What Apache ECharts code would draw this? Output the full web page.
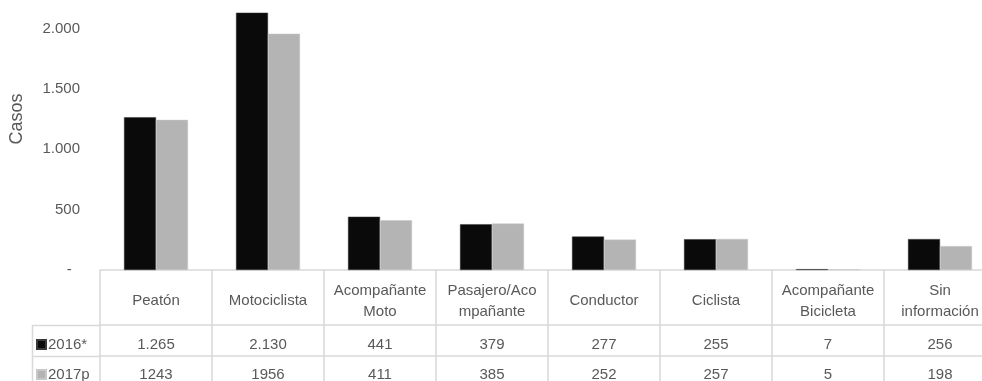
<!DOCTYPE html>
<html>
<head>
<meta charset="utf-8">
<script src="https://cdn.jsdelivr.net/npm/echarts@6/dist/echarts.min.js"></script>
<style>
  html, body { margin: 0; padding: 0; background: #fff; }
  #chart { width: 982px; height: 381px; }
</style>
</head>
<body>
<div id="chart"></div>
<script>
// Víctimas por condición del usuario de la vía
const categories = ['Peatón', 'Motociclista', 'Acompañante\nMoto', 'Pasajero/Aco\nmpañante',
  'Conductor', 'Ciclista', 'Acompañante\nBicicleta', 'Sin\ninformación'];
const seriesNames = ['2016*', '2017p'];
const values2016 = [1265, 2130, 441, 379, 277, 255, 7, 256];
const values2017 = [1243, 1956, 411, 385, 252, 257, 5, 198];
const yMin = 0, yMax = 2500, yStep = 500;

const FONT = "'Liberation Sans Narrow', 'Arial Narrow', 'Liberation Sans', sans-serif";
const FS = 15;
const TEXT = '#595959';
const RULE = '#d9d9d9';

const withDots = v => String(v).replace(/\B(?=(\d{3})+(?!\d))/g, '.');

const chart = echarts.init(document.getElementById('chart'), null, { renderer: 'canvas' });

const tableAxis = (offset, margin, values, fmt) => ({
  type: 'category',
  data: categories,
  position: 'bottom',
  offset: offset,
  axisLine: { show: true, lineStyle: { color: RULE, width: 1.5 } },
  axisTick: { show: false },
  axisLabel: {
    interval: 0, margin: margin, color: TEXT, fontFamily: FONT, fontSize: FS,
    verticalAlign: 'middle',
    formatter: (v, i) => fmt(values[i])
  }
});

chart.setOption({
  animation: false,
  grid: { left: 100, top: -32, width: 896, height: 302, containLabel: false, outerBoundsMode: 'none' },
  legend: {
    orient: 'vertical', left: 36, top: 337, height: 60, padding: 0,
    itemWidth: 9, itemHeight: 9, itemGap: 15, icon: 'rect',
    textStyle: { color: TEXT, fontFamily: FONT, fontSize: FS, lineHeight: 15, padding: [0, 0, 0, -3] },
    data: seriesNames
  },
  xAxis: [
    {
      type: 'category',
      data: categories,
      position: 'bottom',
      axisLine: { show: true, lineStyle: { color: RULE, width: 1.5 } },
      axisTick: { show: true, interval: 0, length: 112, lineStyle: { color: RULE, width: 1.5 } },
      axisLabel: {
        interval: 0, margin: 31, color: TEXT, fontFamily: FONT, fontSize: FS,
        lineHeight: 21, verticalAlign: 'middle'
      }
    },
    tableAxis(55, 20, values2016, withDots),
    tableAxis(86, 19, values2017, v => String(v))
  ],
  yAxis: {
    type: 'value',
    min: yMin, max: yMax, interval: yStep,
    name: 'Casos', nameLocation: 'middle', nameGap: 74,
    nameTextStyle: { color: TEXT, fontFamily: FONT, fontSize: 18 },
    axisLine: { show: false }, axisTick: { show: false },
    splitLine: { show: false },
    axisLabel: {
      margin: 20, color: TEXT, fontFamily: FONT, fontSize: FS,
      formatter: v => (v === 0 ? '-  ' : withDots(v))
    }
  },
  series: [
    {
      name: seriesNames[0], type: 'bar', data: values2016,
      barWidth: 32, barGap: '0%',
      itemStyle: { color: '#0a0a0a', borderColor: '#3a3a3a', borderWidth: 0.5 }
    },
    {
      name: seriesNames[1], type: 'bar', data: values2017,
      barWidth: 32,
      itemStyle: { color: '#b4b4b4', borderColor: '#c8c8c8', borderWidth: 0.5 }
    }
  ],
  graphic: [
    // legend column of the data table
    { type: 'line', shape: { x1: 32, y1: 325.5, x2: 100, y2: 325.5 }, style: { stroke: RULE, lineWidth: 1.5 } },
    { type: 'line', shape: { x1: 32, y1: 356.5, x2: 100, y2: 356.5 }, style: { stroke: RULE, lineWidth: 1.5 } },
    { type: 'line', shape: { x1: 32.5, y1: 325, x2: 32.5, y2: 381 }, style: { stroke: RULE, lineWidth: 1.5 } }
  ]
});
</script>
</body>
</html>
